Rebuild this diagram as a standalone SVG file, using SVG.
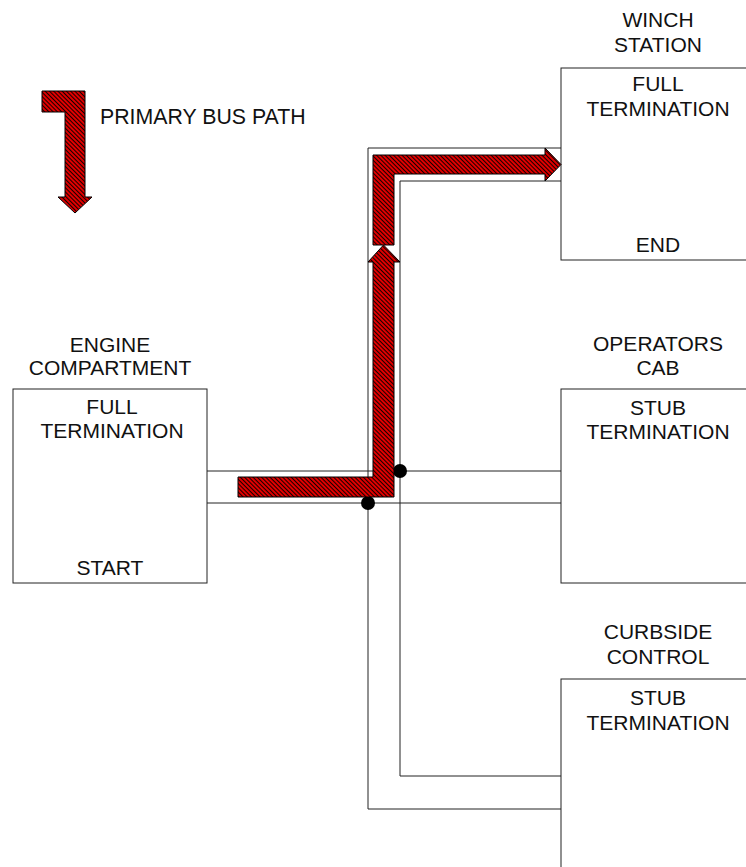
<svg xmlns="http://www.w3.org/2000/svg" width="746" height="867" viewBox="0 0 746 867">
<defs>
<pattern id="hatch" width="3" height="3" patternUnits="userSpaceOnUse" patternTransform="rotate(-45)">
<rect width="3" height="3" fill="#e00000"/>
<rect width="0.9" height="3" fill="#000"/>
</pattern>
</defs>
<style>
.box{fill:#fff;stroke:#222;stroke-width:1}
.wire{fill:none;stroke:#222;stroke-width:1}
.bus{fill:url(#hatch);stroke:#000;stroke-width:1;stroke-linejoin:miter}
text{font-family:"Liberation Sans",Arial,sans-serif;font-size:21px;fill:#111;text-anchor:middle}
.dot{fill:#000}
</style>
<rect width="746" height="867" fill="#fff"/>

<g id="legend">
<polygon class="bus" points="42,91 85,91 85,197 92,197 75,213 58,197 65,197 65,112 42,112"/>
<text x="100" y="124" style="text-anchor:start;font-size:21.3px">PRIMARY BUS PATH</text>
</g>

<g id="connectors">
<line class="wire" x1="207" y1="471" x2="561" y2="471"/>
<line class="wire" x1="207" y1="503" x2="561" y2="503"/>
<polyline class="wire" points="561,148 368,148 368,809 561,809"/>
<polyline class="wire" points="561,181 400,181 400,776 561,776"/>
<circle class="dot" cx="400" cy="471" r="7"/>
<circle class="dot" cx="368" cy="503" r="7"/>
</g>

<g id="engine-compartment">
<text x="110" y="352">ENGINE</text>
<text x="110" y="375">COMPARTMENT</text>
<rect class="box" x="13" y="389" width="194" height="194"/>
<text x="112" y="414">FULL</text>
<text x="112" y="438">TERMINATION</text>
<text x="110" y="575">START</text>
</g>

<g id="winch-station">
<text x="658" y="27">WINCH</text>
<text x="658" y="52">STATION</text>
<rect class="box" x="561" y="68" width="194" height="192"/>
<text x="658" y="91">FULL</text>
<text x="658" y="116">TERMINATION</text>
<text x="658" y="252">END</text>
</g>

<g id="operators-cab">
<text x="658" y="351">OPERATORS</text>
<text x="658" y="375">CAB</text>
<rect class="box" x="561" y="389" width="194" height="194"/>
<text x="658" y="415">STUB</text>
<text x="658" y="439">TERMINATION</text>
</g>

<g id="curbside-control">
<text x="658" y="639">CURBSIDE</text>
<text x="658" y="664">CONTROL</text>
<rect class="box" x="561" y="679" width="194" height="194"/>
<text x="658" y="705">STUB</text>
<text x="658" y="730">TERMINATION</text>
</g>

<g id="bus-path">
<polygon class="bus" points="373,245 373,155 545,155 545,148 561,164.5 545,181 545,174 394,174 394,245"/>
<polygon class="bus" points="238,477 373,477 373,262 368,262 383.5,245 400,262 394,262 394,497 238,497"/>
</g>
</svg>
